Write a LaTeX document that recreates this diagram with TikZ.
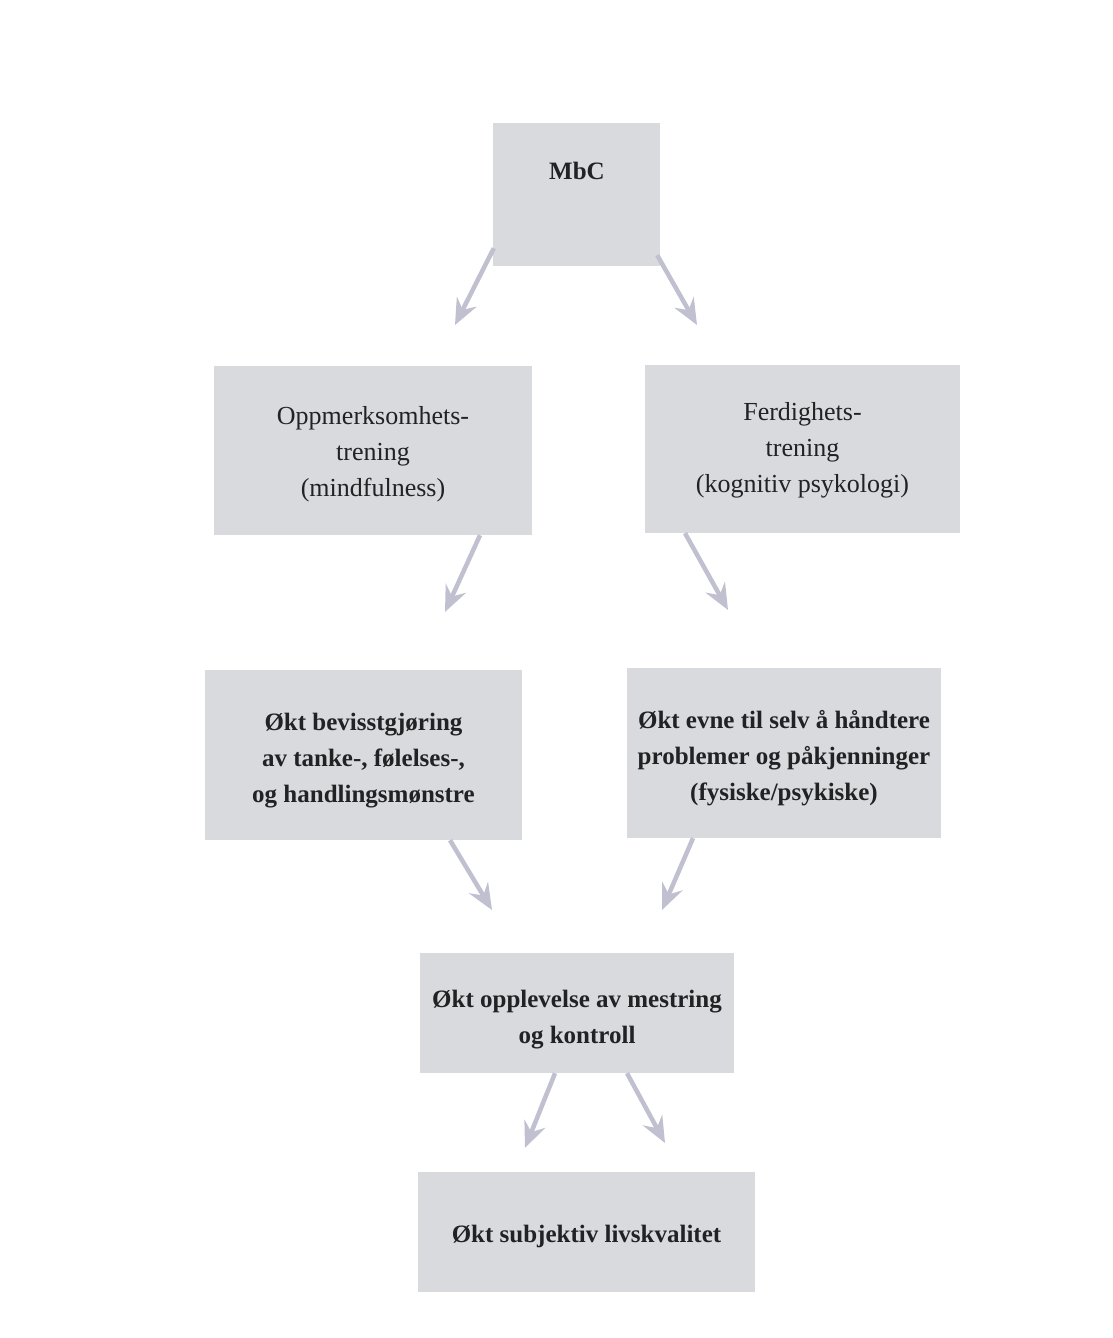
\documentclass[tikz,border=0pt]{standalone}
\usepackage{fontspec}
\setmainfont{Liberation Serif}
\usetikzlibrary{arrows.meta,calc}
\definecolor{boxgray}{RGB}{216,218,221}
\definecolor{arrgray}{RGB}{192,192,208}
\definecolor{txt}{RGB}{34,34,36}
\newcommand\lowr[1]{\rule{0pt}{#1}}
\begin{document}
\begin{tikzpicture}[x=1pt,y=-1pt,
  box/.style={fill=boxgray, draw=none, inner sep=0pt, align=center, text=txt},
  regtext/.style={font=\fontsize{26}{36}\selectfont},
  boldtext/.style={font=\bfseries\fontsize{25}{36}\selectfont},
  arr/.style={draw=arrgray, line width=4.5pt, -{Stealth[length=26pt,width=22pt,inset=9pt]}}]
\path[use as bounding box] (0,0) rectangle (1113,1338);

% boxes
\node[box, minimum width=167pt, minimum height=143pt] (mbc) at (576.5,194.5) {};
\node[boldtext, text=txt] (mbct) at (577,171) {MbC};

\node[box, regtext, minimum width=318pt, minimum height=169pt] (opp) at (373,450.5)
  {\lowr{25pt}Oppmerksomhets-\\trening\\(mindfulness)};
\node[box, regtext, minimum width=315pt, minimum height=168pt] (fer) at (802.5,449)
  {\lowr{20pt}Ferdighets-\\trening\\(kognitiv psykologi)};

\node[box, boldtext, minimum width=317pt, minimum height=170pt] (bev) at (363.5,755)
  {\lowr{29pt}Økt bevisstgjøring\\av tanke-, følelses-,\\og handlingsmønstre};
\node[box, boldtext, minimum width=314pt, minimum height=170pt] (evn) at (784,753)
  {\lowr{29pt}Økt evne til selv å håndtere\\problemer og påkjenninger\\(fysiske/psykiske)};

\node[box, boldtext, minimum width=314pt, minimum height=120pt] (opl) at (577,1013)
  {\lowr{30pt}Økt opplevelse av mestring\\og kontroll};
\node[box, boldtext, minimum width=337pt, minimum height=120pt] (sub) at (586.5,1232)
  {\lowr{27pt}Økt subjektiv livskvalitet};

% free arrow ends
\coordinate (e1) at (455,325);
\coordinate (e2) at (697,325);
\coordinate (e3) at (445,612);
\coordinate (e4) at (728,610);
\coordinate (e5) at (492,910);
\coordinate (e6) at (662,910);
\coordinate (e7) at (525,1148);
\coordinate (e8) at (665,1143);

% arrows
\draw[arr] ($(mbc.south west)+(1,-18)$) -- (e1);
\draw[arr] ($(mbc.south east)+(-3,-11)$) -- (e2);
\draw[arr] ($(opp.south)+(107,0)$) -- (e3);
\draw[arr] ($(fer.south)+(-117.5,0)$) -- (e4);
\draw[arr] ($(bev.south)+(86.5,0)$) -- (e5);
\draw[arr] ($(evn.south)+(-91,0)$) -- (e6);
\draw[arr] ($(opl.south)+(-22,0)$) -- (e7);
\draw[arr] ($(opl.south)+(50,0)$) -- (e8);
\end{tikzpicture}
\end{document}
